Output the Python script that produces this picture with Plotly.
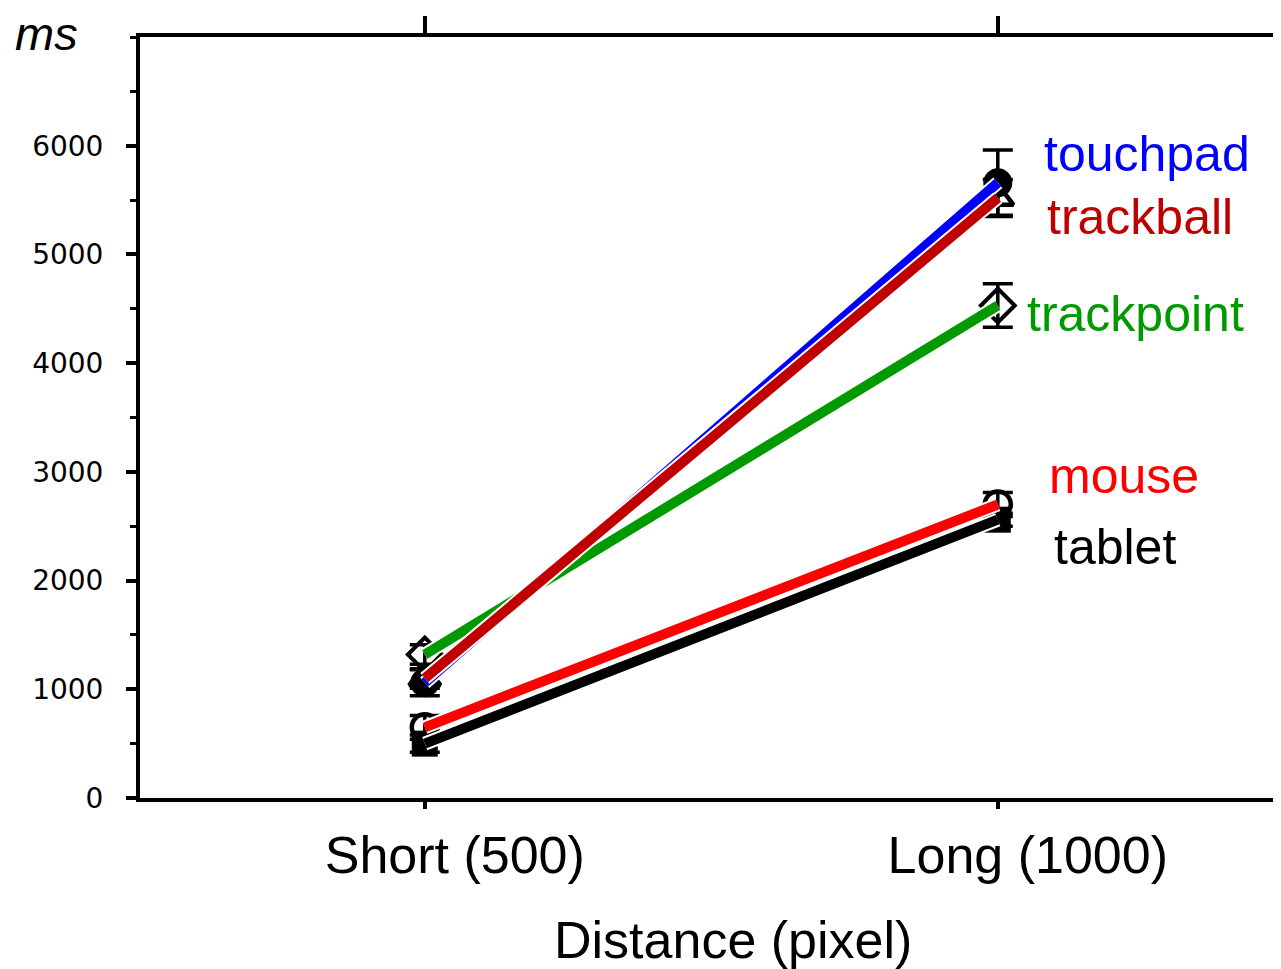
import plotly.graph_objects as go

categories = ["Short (500)", "Long (1000)"]
xpos = [0, 1]

series_names = ["tablet", "mouse", "trackpoint", "touchpad", "trackball"]
tablet = [500, 2560]
tablet_err = [80, 60]
mouse = [650, 2700]
mouse_err = [110, 110]
trackpoint = [1320, 4530]
trackpoint_err = [90, 200]
touchpad = [1060, 5660]
touchpad_err = [120, 300]
trackball = [1100, 5520]
trackball_err = [90, 170]

y_ticks = [0, 1000, 2000, 3000, 4000, 5000, 6000]

# name: values, errors, colour, marker symbol, marker outline width, marker size
data = {
    "tablet": (tablet, tablet_err, "#000000", "square", 0, 26),
    "mouse": (mouse, mouse_err, "#FF0000", "circle-open", 4.5, 26),
    "trackpoint": (trackpoint, trackpoint_err, "#009900", "diamond-open", 4, 26),
    "touchpad": (touchpad, touchpad_err, "#0000FF", "circle", 0, 29),
    "trackball": (trackball, trackball_err, "#C00000", "triangle-up-open", 4.5, 27),
}

# label positions (data coords: x, y)
label_pos = {
    "touchpad": (1.078, 5920),
    "trackball": (1.082, 5345),
    "trackpoint": (1.047, 4455),
    "mouse": (1.086, 2965),
    "tablet": (1.095, 2310),
}

FONT = "Liberation Sans, Arial, sans-serif"

fig = go.Figure()

# markers + error bars first
for name in series_names:
    vals, errs, col, sym, lw, ms = data[name]
    fig.add_trace(go.Scatter(
        x=xpos, y=vals, mode="markers",
        marker=dict(symbol=sym, size=ms, color="black",
                    line=dict(color="black", width=lw)),
        error_y=dict(type="data", array=errs, visible=True,
                     color="black", thickness=3.5, width=15),
        showlegend=False, hoverinfo="skip",
    ))

# lines on top with white outline
for name in series_names:
    vals, errs, col, sym, lw, ms = data[name]
    fig.add_trace(go.Scatter(
        x=xpos, y=vals, mode="lines",
        line=dict(color="white", width=14),
        showlegend=False, hoverinfo="skip",
    ))
    fig.add_trace(go.Scatter(
        x=xpos, y=vals, mode="lines",
        line=dict(color=col, width=10),
        name=name, showlegend=False,
    ))

for name in series_names:
    vals, errs, col, sym, lw, ms = data[name]
    lx, ly = label_pos[name]
    fig.add_annotation(
        x=lx, y=ly, xref="x", yref="y", text=name, showarrow=False,
        xanchor="left", yanchor="middle",
        font=dict(family=FONT, size=50, color=col),
    )

# top-left unit label
fig.add_annotation(
    xref="paper", yref="paper", x=-0.112, y=1.004, xanchor="left", yanchor="middle",
    text="<i>ms</i>", showarrow=False,
    font=dict(family=FONT, size=47, color="black"),
)

# x axis title
fig.add_annotation(
    xref="paper", yref="paper", x=0.521, y=-0.1866, xanchor="center", yanchor="middle",
    text="Distance (pixel)", showarrow=False,
    font=dict(family=FONT, size=52, color="black"),
)

fig.update_layout(
    width=1273, height=961,
    margin=dict(l=132, r=3, t=29, b=171, pad=0),
    paper_bgcolor="white", plot_bgcolor="white",
    xaxis=dict(
        range=[-0.497, 1.489], tickvals=xpos, ticktext=categories,
        showgrid=False, zeroline=False,
        showline=True, linecolor="black", linewidth=4,
        ticks="outside", ticklen=7, tickwidth=4, tickcolor="black",
        ticklabelstandoff=2, ticklabelshift=30,
        tickfont=dict(family=FONT, size=52, color="black"),
    ),
    xaxis2=dict(
        range=[-0.497, 1.489], tickvals=xpos, overlaying="x", side="top",
        showgrid=False, zeroline=False, showticklabels=False,
        showline=True, linecolor="black", linewidth=4,
        ticks="outside", ticklen=17, tickwidth=4, tickcolor="black",
    ),
    yaxis=dict(
        range=[0, 7000], tickvals=y_ticks,
        showgrid=False, zeroline=False,
        showline=True, linecolor="black", linewidth=4,
        ticks="outside", ticklen=10, tickwidth=4, tickcolor="black",
        minor=dict(ticks="outside", ticklen=6, tickwidth=3, dtick=500,
                   tickcolor="black", showgrid=False),
        ticklabelstandoff=17,
        tickfont=dict(family="DejaVu Sans, sans-serif", size=28, color="black"),
    ),
    shapes=[dict(type="line", xref="paper", yref="paper", x0=1, x1=1, y0=0, y1=1,
                 line=dict(color="#333333", width=2))],
)

# dummy trace to activate xaxis2
fig.add_trace(go.Scatter(x=[None], y=[None], xaxis="x2", showlegend=False, hoverinfo="skip"))

fig.write_html("out.html")
